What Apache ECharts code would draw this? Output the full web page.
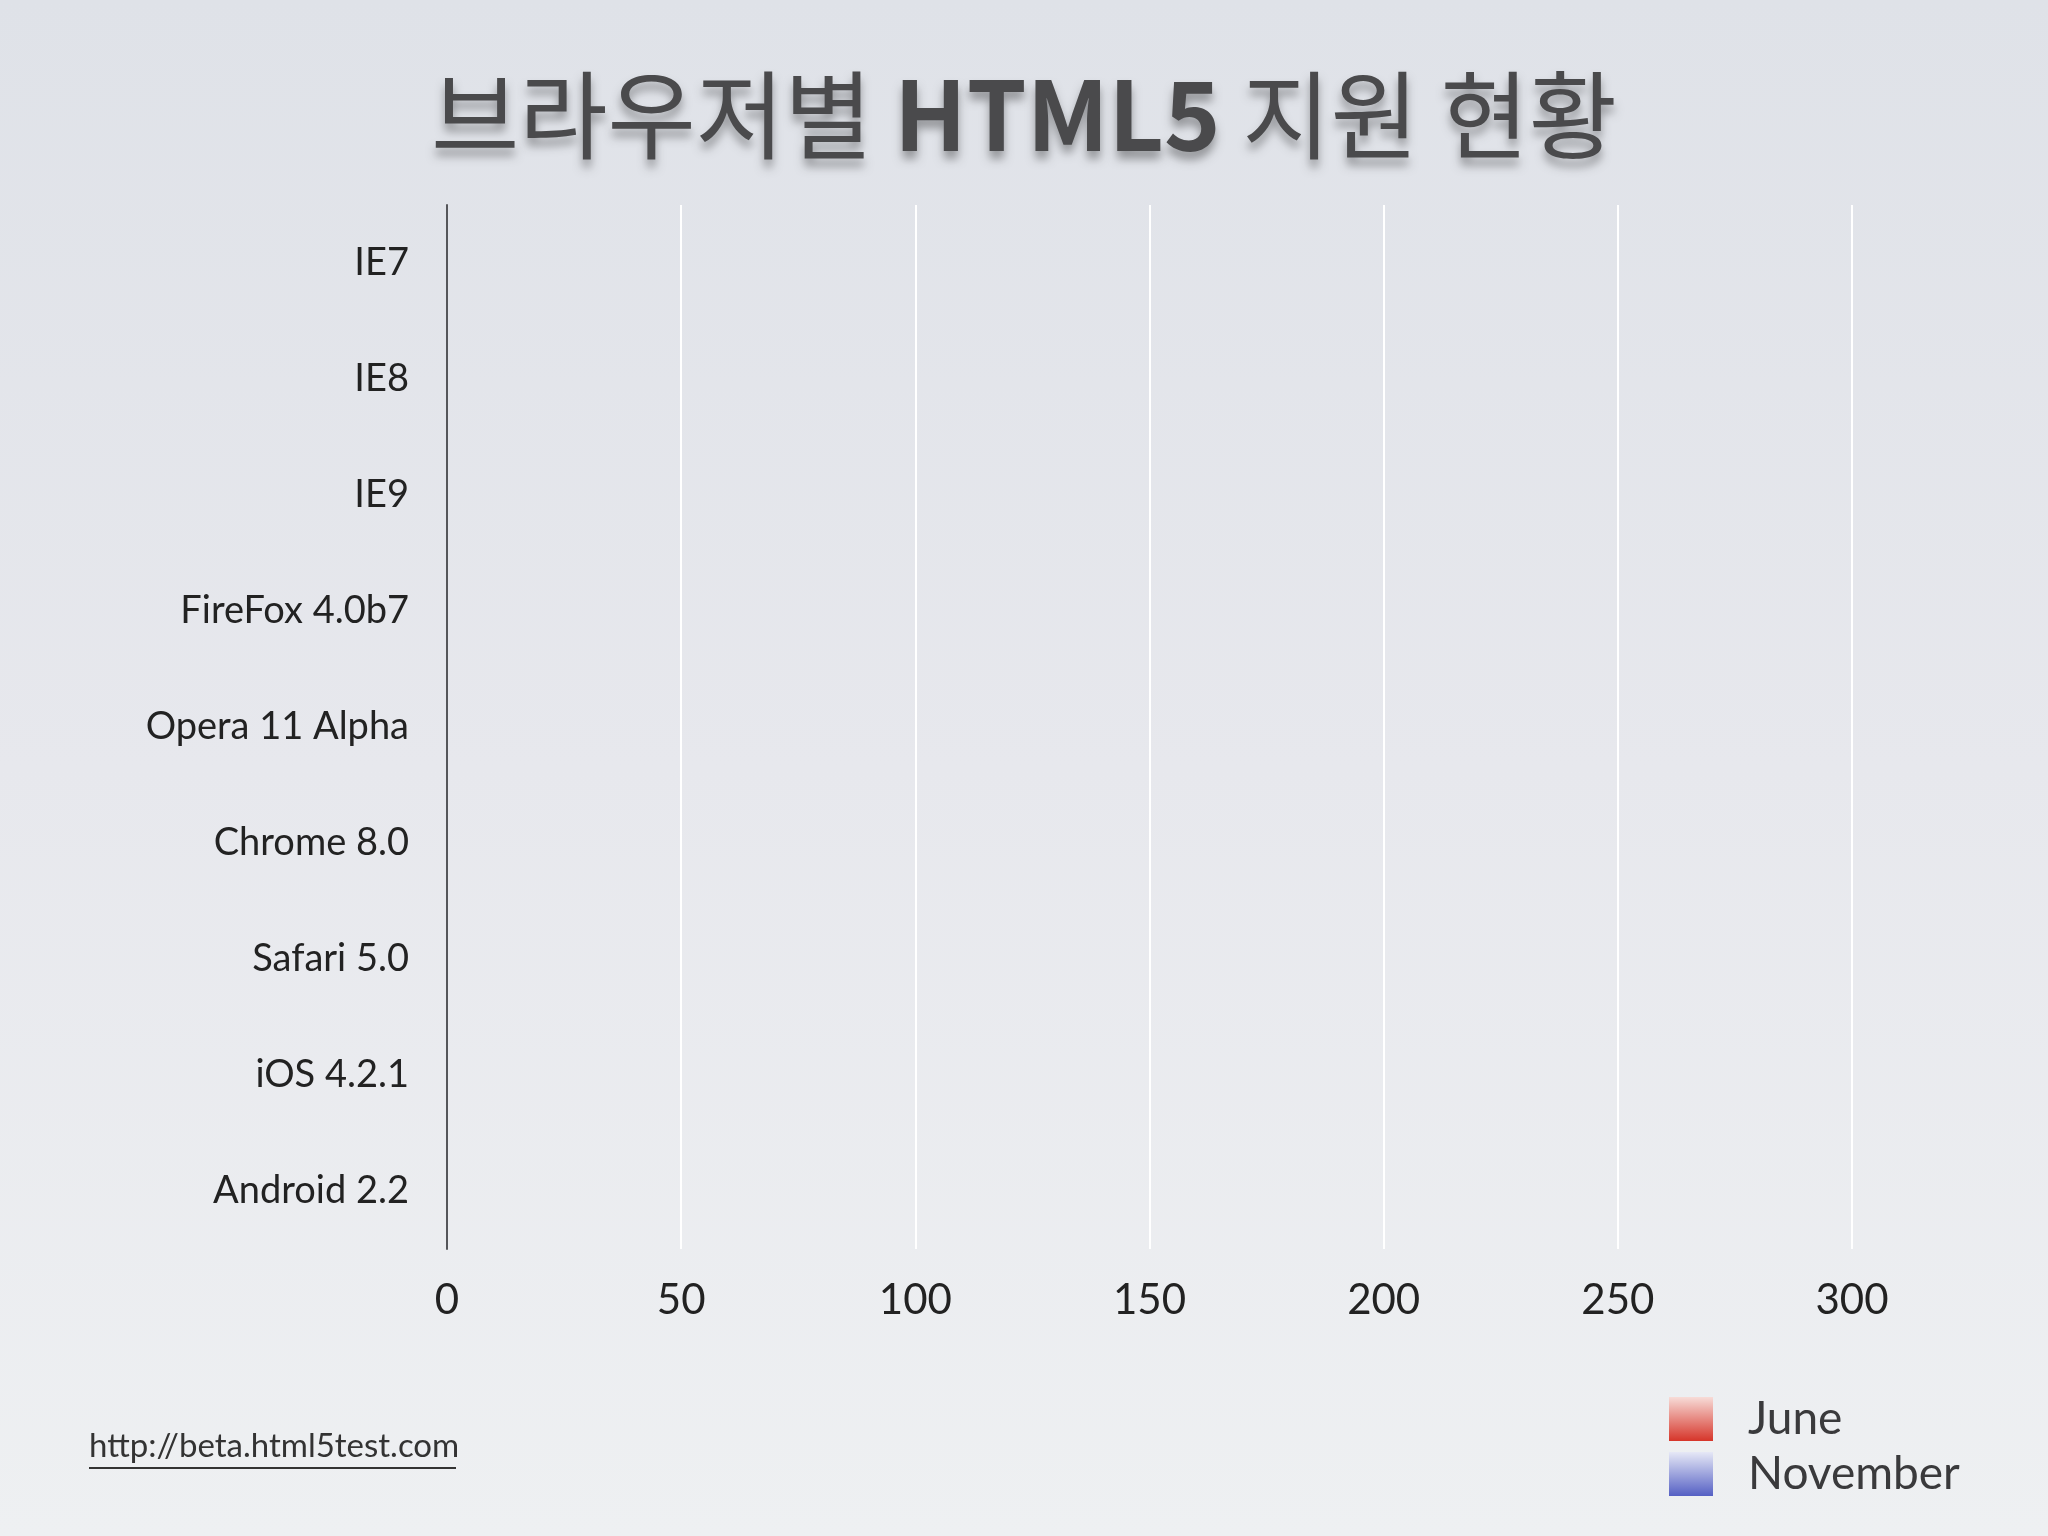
<!DOCTYPE html>
<html>
<head>
<meta charset="utf-8">
<script src="https://cdn.jsdelivr.net/npm/echarts@6/dist/echarts.min.js"></script>
<style>html,body{margin:0;padding:0;}#c{width:2048px;height:1536px;}</style>
</head>
<body>
<div id="c"></div>
<script>
const categories = ['IE7','IE8','IE9','FireFox 4.0b7','Opera 11 Alpha','Chrome 8.0','Safari 5.0','iOS 4.2.1','Android 2.2'];
// No bars are drawn in the reference (build state before bars appear)
const juneValues = [null,null,null,null,null,null,null,null,null];
const novemberValues = [null,null,null,null,null,null,null,null,null];
const xTicks = [0,50,100,150,200,250,300];
const seriesNames = ['June','November'];

const FONT = 'Lato, "Open Sans", "Noto Sans CJK KR", sans-serif';
const chart = echarts.init(document.getElementById('c'));
chart.setOption({
  backgroundColor: {
    type:'linear', x:0, y:0, x2:0, y2:1,
    colorStops:[{offset:0,color:'#dfe2e8'},{offset:0.5,color:'#e7e8ed'},{offset:1,color:'#eef0f2'}]
  },
  title: {
    text: '{k|브라우저별 }{b|HTML5}{k| 지원 현황}',
    left: 'center', top: 62,
    textStyle: {
      rich: {
        k: {fontFamily:'"Noto Sans CJK KR", sans-serif', fontSize: 96, fontWeight: 400, color:'#4a4a4c',
            textShadowColor:'rgba(0,0,0,0.35)', textShadowBlur:10, textShadowOffsetY:8},
        b: {fontFamily:'"Noto Sans CJK KR", sans-serif', fontSize: 96, fontWeight: 700, color:'#4a4a4c',
            textShadowColor:'rgba(0,0,0,0.35)', textShadowBlur:10, textShadowOffsetY:8}
      }
    }
  },
  legend: {
    orient: 'vertical', left: 1664, top: 1391,
    itemWidth: 44, itemHeight: 44, itemGap: 9, icon: 'rect',
    data: seriesNames,
    textStyle: {fontFamily: FONT, fontSize: 46, color:'#3a3a3c', padding:[0,0,0,30]}
  },
  grid: {left: 447, right: 196, top: 205, bottom: 287, containLabel: false},
  xAxis: {
    type:'value', min: xTicks[0], max: xTicks[xTicks.length-1], interval: 50,
    axisLine:{show:false}, axisTick:{show:false},
    splitLine:{show:true, lineStyle:{color:'#ffffff', width:2}},
    axisLabel:{fontFamily: FONT, fontSize: 42, color:'#222', margin: 30}
  },
  yAxis: {
    type:'category', data: categories, inverse: true,
    axisLine:{show:true, lineStyle:{color:'#55565a', width:2}},
    axisTick:{show:false},
    axisLabel:{fontFamily: FONT, fontSize: 38, color:'#222', margin: 38}
  },
  series: [
    {name: seriesNames[0], type:'bar', data: juneValues,
     itemStyle:{color:{type:'linear',x:0,y:0,x2:0,y2:1,colorStops:[{offset:0,color:'#f7dcd8'},{offset:1,color:'#d6352a'}]}}},
    {name: seriesNames[1], type:'bar', data: novemberValues,
     itemStyle:{color:{type:'linear',x:0,y:0,x2:0,y2:1,colorStops:[{offset:0,color:'#e6e8f6'},{offset:1,color:'#5560c4'}]}}}
  ],
  graphic: [
    {type:'text', left: 89, top: 1430,
     style:{text:'http://beta.html5test.com', font:'33px Lato, "Open Sans", sans-serif', fill:'#333',
            shadowColor:'rgba(0,0,0,0.25)', shadowBlur:6, shadowOffsetY:4}},
    {type:'rect', left: 89, top: 1467, shape:{width: 367, height: 2}, style:{fill:'#333'}}
  ]
});
</script>
</body>
</html>
